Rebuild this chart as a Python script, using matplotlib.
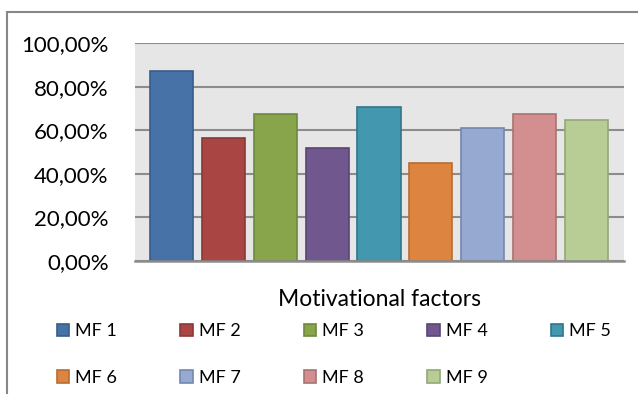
import matplotlib.pyplot as plt
from matplotlib.patches import Rectangle

plt.rcParams['font.family'] = ['Lato', 'DejaVu Sans']

factors = ['MF 1', 'MF 2', 'MF 3', 'MF 4', 'MF 5', 'MF 6', 'MF 7', 'MF 8', 'MF 9']
shares = [87.2, 56.3, 67.6, 52.0, 70.8, 45.1, 61.2, 67.6, 64.5]
y_ticks = [0, 20, 40, 60, 80, 100]
y_labels = ['0,00%', '20,00%', '40,00%', '60,00%', '80,00%', '100,00%']

fills = ['#4672A8', '#A94543', '#88A54C', '#70578E', '#4398AF',
         '#DD8440', '#95A9D1', '#D38F8F', '#B8CD96']
edges = ['#385D8A', '#8C3836', '#6D8A3D', '#5A4574', '#31758A',
         '#B66D31', '#7388B0', '#A87372', '#93A877']

fig = plt.figure(figsize=(6.38, 3.94), dpi=100)
ax = fig.add_axes([135/638, 1 - 261/394, (624 - 135)/638, (261 - 43)/394])
ax.set_facecolor('#E6E6E6')

bars = []
for i, (name, val) in enumerate(zip(factors, shares)):
    b = ax.bar(i, val, width=0.83, color=fills[i], edgecolor=edges[i],
               linewidth=1.2, label=name, zorder=3)
    bars.append(b)

ax.set_xlim(-0.70, 8.72)
ax.set_ylim(0, 100)
ax.set_yticks(y_ticks)
ax.set_yticklabels(y_labels, fontsize=16)
ax.set_xticks([])
ax.tick_params(axis='y', length=0, pad=19)
ax.yaxis.grid(True, color='#8C8C8C', linewidth=1.5, zorder=0)
ax.set_axisbelow(True)
for s in ['top', 'right', 'left']:
    ax.spines[s].set_visible(False)
ax.spines['bottom'].set_color('#8C8C8C')
ax.spines['bottom'].set_linewidth(1.8)
ax.spines['bottom'].set_zorder(4)

ax.set_xlabel('Motivational factors', fontsize=16.5, labelpad=20)

# legend fills column by column, so reorder to get two rows of 5 and 4
order = [0, 5, 1, 6, 2, 7, 3, 8, 4]
fig.legend([bars[k] for k in order], [factors[k] for k in order],
           loc='upper left', bbox_to_anchor=(57/638, 1 - 323/394),
           ncol=5, frameon=False, fontsize=13, borderpad=0, borderaxespad=0,
           handlelength=0.67, handleheight=0.67, handletextpad=0.33,
           columnspacing=3.52, labelspacing=1.7)

# outer chart frame
fig.patches.append(Rectangle((7/638, -0.2), 1.2, 1.2 - 12/394,
                             transform=fig.transFigure, fill=False,
                             edgecolor='#878787', linewidth=1.5))

fig.savefig('out.png', dpi=100)
